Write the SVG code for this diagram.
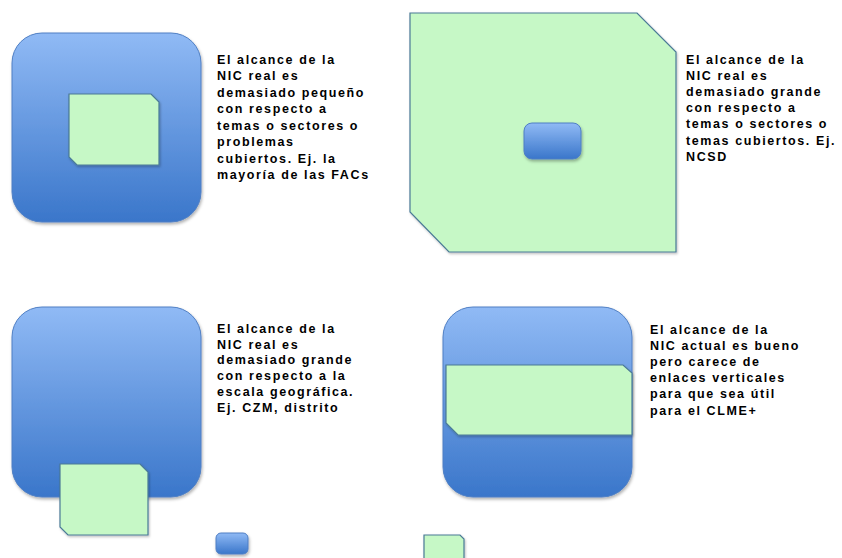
<svg xmlns="http://www.w3.org/2000/svg" width="842" height="558" viewBox="0 0 842 558">
<style>
.lbl{font-family:"Liberation Sans",Arial,sans-serif;font-size:12.5px;font-weight:bold;letter-spacing:1.6px;fill:#000}
.blue{fill:url(#bg);stroke:#4f7fc4;stroke-width:1;filter:url(#sh)}
.green{fill:#c6f8c6;stroke:#4a7a96;stroke-width:1.2;filter:url(#sh2)}
</style>
<defs>
<linearGradient id="bg" x1="0" y1="0" x2="0" y2="1">
<stop offset="0" stop-color="#90baf5"/>
<stop offset="1" stop-color="#3a76ca"/>
</linearGradient>
<filter id="sh" x="-10%" y="-10%" width="125%" height="125%">
<feDropShadow dx="1" dy="2" stdDeviation="1.5" flood-color="#000" flood-opacity="0.3"/>
</filter>
<filter id="sh2" x="-10%" y="-10%" width="125%" height="125%">
<feDropShadow dx="1" dy="1.5" stdDeviation="1" flood-color="#000" flood-opacity="0.25"/>
</filter>
</defs>
<rect width="842" height="558" fill="#fff"/>
<g id="connectors"/>
<g id="n1">
<rect class="blue" x="12" y="33" width="189" height="189" rx="30"/>
<polygon class="green" points="69,94 151,94 159,102 159,165 77,165 69,157"/>
<text class="lbl">
<tspan x="217" y="63.5">El alcance de la</tspan>
<tspan x="217" y="80">NIC real es</tspan>
<tspan x="217" y="96.5">demasiado pequeño</tspan>
<tspan x="217" y="113">con respecto a</tspan>
<tspan x="217" y="129.5">temas o sectores o</tspan>
<tspan x="217" y="146">problemas</tspan>
<tspan x="217" y="162.5">cubiertos. Ej. la</tspan>
<tspan x="217" y="179">mayoría de las FACs</tspan>
</text>
</g>
<g id="n2">
<polygon class="green" points="410,13 637,13 676,52 676,252 449,252 410,212"/>
<rect class="blue" x="524" y="123" width="57" height="36" rx="8"/>
<text class="lbl">
<tspan x="686" y="63.5">El alcance de la</tspan>
<tspan x="686" y="79.7">NIC real es</tspan>
<tspan x="686" y="95.9">demasiado grande</tspan>
<tspan x="686" y="112.1">con respecto a</tspan>
<tspan x="686" y="128.3">temas o sectores o</tspan>
<tspan x="686" y="144.5">temas cubiertos. Ej.</tspan>
<tspan x="686" y="160.7">NCSD</tspan>
</text>
</g>
<g id="n3">
<rect class="blue" x="12" y="307" width="189" height="190" rx="30"/>
<polygon class="green" points="60,464 140,464 148,472 148,535 68,535 60,527"/>
<text class="lbl">
<tspan x="217" y="333">El alcance de la</tspan>
<tspan x="217" y="348.7">NIC real es</tspan>
<tspan x="217" y="364.4">demasiado grande</tspan>
<tspan x="217" y="380.1">con respecto a la</tspan>
<tspan x="217" y="395.8">escala geográfica.</tspan>
<tspan x="217" y="411.5">Ej. CZM, distrito</tspan>
</text>
</g>
<g id="n4">
<rect class="blue" x="443" y="307" width="189" height="190" rx="30"/>
<polygon class="green" points="446,365 623,365 632,373 632,435 458,435 446,423"/>
<text class="lbl">
<tspan x="650" y="334">El alcance de la</tspan>
<tspan x="650" y="350.1">NIC actual es bueno</tspan>
<tspan x="650" y="366.2">pero carece de</tspan>
<tspan x="650" y="382.3">enlaces verticales</tspan>
<tspan x="650" y="398.4">para que sea útil</tspan>
<tspan x="650" y="414.5">para el CLME+</tspan>
</text>
</g>
<g id="n5">
<rect class="blue" x="216" y="533" width="32" height="21" rx="5"/>
</g>
<g id="n6">
<polygon class="green" points="424,535 460,535 464,539 464,562 424,562"/>
</g>
</svg>
